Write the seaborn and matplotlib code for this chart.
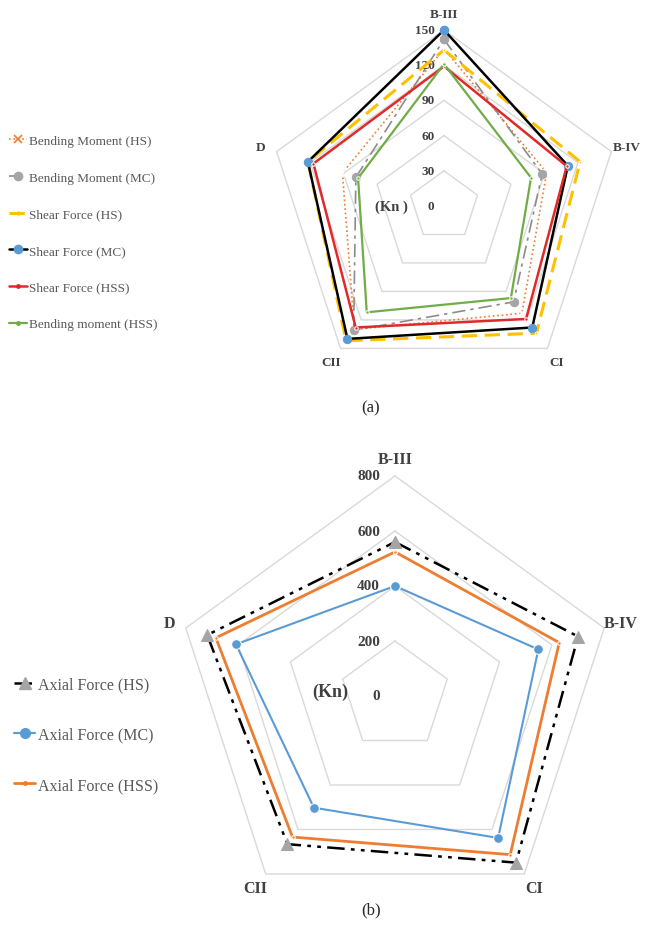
import numpy as np
import pandas as pd
import matplotlib
matplotlib.use("Agg")
import matplotlib.pyplot as plt
import seaborn as sns
from matplotlib.lines import Line2D

# categories (clockwise from top)
categories = ["B-III", "B-IV", "CI", "CII", "D"]

# chart (a): bending moment / shear force (Kn)
bm_hs = [134, 92, 113, 130, 91]
bm_mc = [142, 88, 101, 131, 79]
sf_hs = [133, 122, 134, 142, 122]
sf_mc = [150, 111, 128, 140, 122]
sf_hss = [119, 110, 119, 128, 117]
bm_hss = [121, 78, 97, 112, 77]
ticks_a = [0, 30, 60, 90, 120, 150]

# chart (b): axial force (Kn)
af_hs = [560, 700, 749, 666, 718]
af_mc = [400, 548, 638, 502, 608]
af_hss = [524, 628, 713, 634, 685]
ticks_b = [0, 200, 400, 600, 800]

sns.set_theme(style="white")
plt.rcParams["font.family"] = ["Liberation Serif", "DejaVu Serif"]

ang = np.deg2rad(90 - 72 * np.arange(len(categories)))


def to_xy(vals):
    v = np.append(vals, vals[0])
    a = np.append(ang, ang[0])
    return pd.DataFrame({"x": v * np.cos(a), "y": v * np.sin(a)})


def draw_grid(ax, ticks, lab_r, tick_fs, cat_fs, tick_dx):
    for t in ticks[1:]:
        g = to_xy([t] * len(categories))
        ax.plot(g.x, g.y, color="#d9d9d9", lw=1.0, zorder=1)
    for t in ticks:
        ax.text(tick_dx, t, str(t), ha="right", va="center", fontsize=tick_fs,
                fontweight="bold", color="#404040")
    for c, a in zip(categories, ang):
        ax.text(lab_r * np.cos(a), lab_r * np.sin(a), c, ha="center", va="center",
                fontsize=cat_fs, fontweight="bold", color="#404040")


def series(ax, vals, **kw):
    sns.lineplot(data=to_xy(vals), x="x", y="y", sort=False, estimator=None,
                 ax=ax, zorder=3, **kw)


fig = plt.figure(figsize=(6.46, 9.29), dpi=100)
W, H = 646, 929

# ---- (a) ----
cx, cy, ppu = 444, 207, 176 / 150
ax1 = fig.add_axes([244 / W, (H - 400) / H, 400 / W, 400 / H])
ax1.set_xlim((244 - cx) / ppu, (644 - cx) / ppu)
ax1.set_ylim((cy - 400) / ppu, cy / ppu)
draw_grid(ax1, ticks_a, 164, 9.5, 9.5, -8)
ax1.text(-31, 0, "(Kn )", ha="right", va="center", fontsize=10.5, fontweight="bold", color="#404040")

st_a = [
    ("Bending Moment (HS)", bm_hs, dict(color="#ED7D31", lw=1.2, linestyle=":", marker="x", markersize=6, mew=1.2)),
    ("Bending Moment (MC)", bm_mc, dict(color="#8c8c8c", lw=1.2, linestyle=(0, (8, 3, 2, 3)), marker="o", markersize=6, mfc="#A5A5A5", mec="#A5A5A5")),
    ("Shear Force (HS)", sf_hs, dict(color="#FFC000", lw=2.2, linestyle=(0, (5, 2.5)), marker="o", markersize=2)),
    ("Shear Force (MC)", sf_mc, dict(color="black", lw=1.8, marker="o", markersize=6, mfc="#5B9BD5", mec="#5B9BD5")),
    ("Shear Force (HSS)", sf_hss, dict(color="#E02A2A", lw=1.8, marker="o", markersize=2.5)),
    ("Bending moment (HSS)", bm_hss, dict(color="#70AD47", lw=1.6, marker="o", markersize=2.5)),
]
for name, vals, kw in st_a:
    series(ax1, vals, **kw)
handles_a = [Line2D([], [], **kw) for _, _, kw in st_a]
fig.legend(handles_a, [n for n, _, _ in st_a], loc="upper left",
           bbox_to_anchor=(-0.005, 1 - 124 / H), frameon=False, fontsize=9.5,
           labelspacing=1.85, handlelength=1.4, handletextpad=0.15,
           labelcolor="#595959")
ax1.set_aspect("equal")
ax1.axis("off")

# ---- (b) ----
cx, cy, ppu = 395, 697, 220 / 800
ax2 = fig.add_axes([150 / W, (H - 900) / H, 490 / W, 455 / H])
ax2.set_xlim((150 - cx) / ppu, (640 - cx) / ppu)
ax2.set_ylim((cy - 900) / ppu, (cy - 445) / ppu)
draw_grid(ax2, ticks_b, 862, 11, 11.5, -55)
ax2.text(-170, 18, "(Kn)", ha="right", va="center", fontsize=13, fontweight="bold", color="#404040")

st_b = [
    ("Axial Force (HS)", af_hs, dict(color="black", lw=1.8, linestyle=(0, (7, 2.5, 1.5, 2.5, 1.5, 2.5)), marker="^", markersize=8.5, mfc="#A5A5A5", mec="#A5A5A5")),
    ("Axial Force (MC)", af_mc, dict(color="#5B9BD5", lw=1.5, marker="o", markersize=7)),
    ("Axial Force (HSS)", af_hss, dict(color="#ED7D31", lw=2.0, marker="o", markersize=2.5)),
]
for name, vals, kw in st_b:
    series(ax2, vals, **kw)
handles_b = [Line2D([], [], **kw) for _, _, kw in st_b]
fig.legend(handles_b, [n for n, _, _ in st_b], loc="upper left",
           bbox_to_anchor=(0.0, 1 - 663 / H), frameon=False, fontsize=11.5,
           labelspacing=2.15, handlelength=1.3, handletextpad=0.15,
           labelcolor="#595959")
ax2.set_aspect("equal")
ax2.axis("off")

fig.text(371 / W, 1 - 408 / H, "(a)", ha="center", va="center", fontsize=12)
fig.text(371 / W, 1 - 910 / H, "(b)", ha="center", va="center", fontsize=12)

fig.savefig("out.png", dpi=100, facecolor="white")
